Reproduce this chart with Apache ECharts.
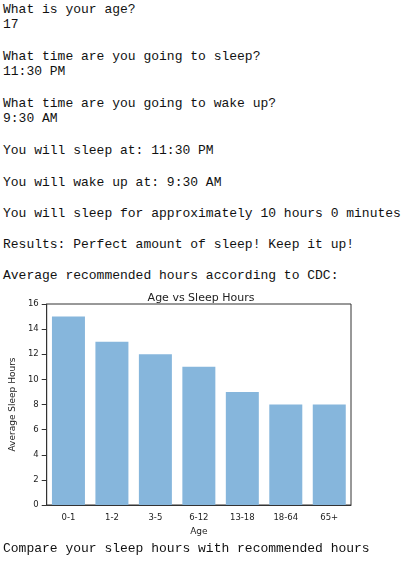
<!DOCTYPE html><html><head><meta charset="utf-8">
<script src="https://cdn.jsdelivr.net/npm/echarts@6/dist/echarts.min.js"></script>
<style>
body{margin:0;background:#fff;width:412px;height:573px;overflow:hidden;position:relative}
.t{position:absolute;left:3px;font-family:"Liberation Mono","DejaVu Sans Mono",monospace;font-size:13px;color:#111;white-space:pre;line-height:15px}
#c{position:absolute;left:0;top:283px;width:412px;height:260px}
</style></head><body>
<div class="t" style="top:2px">What is your age?
17</div>
<div class="t" style="top:49px">What time are you going to sleep?
11:30 PM</div>
<div class="t" style="top:96px">What time are you going to wake up?
9:30 AM</div>
<div class="t" style="top:143px">You will sleep at: 11:30 PM</div>
<div class="t" style="top:175px">You will wake up at: 9:30 AM</div>
<div class="t" style="top:206px">You will sleep for approximately 10 hours 0 minutes</div>
<div class="t" style="top:237px">Results: Perfect amount of sleep! Keep it up!</div>
<div class="t" style="top:268px">Average recommended hours according to CDC:</div>
<div id="c"></div>
<div class="t" style="top:541px">Compare your sleep hours with recommended hours</div>
<script>
const categories=["0-1","1-2","3-5","6-12","13-18","18-64","65+"];
const hours=[15,13,12,11,9,8,8];
const yTicks={min:0,max:16,interval:2};
const chart=echarts.init(document.getElementById('c'));
const f='"DejaVu Sans",sans-serif';
chart.setOption({
 animation:false,
 title:{text:"Age vs Sleep Hours",left:196,textAlign:'center',top:5,textStyle:{fontFamily:f,fontSize:11,fontWeight:'normal',color:'#222'}},
 grid:{left:41,right:61,top:21,bottom:38,show:true,borderColor:'#333',borderWidth:1},
 xAxis:{type:'category',data:categories,name:'Age',nameLocation:'middle',nameGap:22,
  nameTextStyle:{fontFamily:f,fontSize:9,color:'#222'},
  axisLine:{lineStyle:{color:'#333'}},axisTick:{alignWithLabel:true,lineStyle:{color:'#333'}},
  axisLabel:{fontFamily:f,fontSize:8.5,color:'#222'}},
 yAxis:{type:'value',min:yTicks.min,max:yTicks.max,interval:yTicks.interval,name:'Average Sleep Hours',
  nameLocation:'middle',nameGap:26,nameTextStyle:{fontFamily:f,fontSize:9,color:'#222'},
  splitLine:{show:false},axisLine:{show:true,lineStyle:{color:'#333'}},axisTick:{show:true,lineStyle:{color:'#333'}},
  axisLabel:{fontFamily:f,fontSize:8.5,color:'#222'}},
 series:[{type:'bar',data:hours,barWidth:33,itemStyle:{color:'#86b6dc'}}]
});
</script></body></html>
